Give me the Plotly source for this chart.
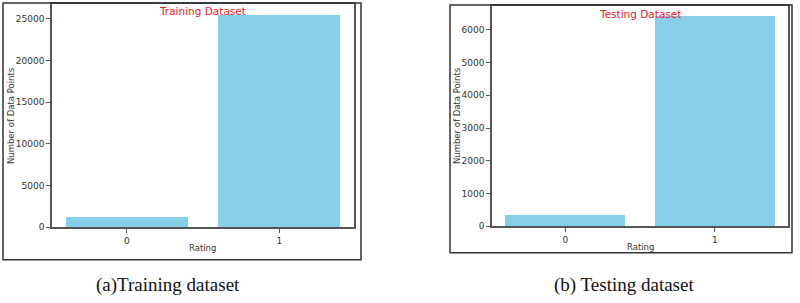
import plotly.graph_objects as go

# Data
ratings = [0, 1]
rating_labels = ["0", "1"]
train_counts = [1260, 25514]
test_counts = [341, 6410]
train_yticks = [0, 5000, 10000, 15000, 20000, 25000]
test_yticks = [0, 1000, 2000, 3000, 4000, 5000, 6000]

W, H = 800, 303
def px(x):
    return x / W
def py(y):
    return 1 - y / H

BAR = "#87CEEB"
AX = "#555555"
TXT = "#333333"

fig = go.Figure()
fig.add_trace(go.Bar(x=ratings, y=train_counts, width=0.8, marker=dict(color=BAR, line=dict(width=0)),
                     xaxis="x", yaxis="y", showlegend=False))
fig.add_trace(go.Bar(x=ratings, y=test_counts, width=0.8, marker=dict(color=BAR, line=dict(width=0)),
                     xaxis="x2", yaxis="y2", showlegend=False))

tickfont = dict(family="DejaVu Sans", size=9, color=TXT)
common_x = dict(range=[-0.49, 1.49], tickvals=ratings, ticktext=rating_labels, showgrid=False, zeroline=False,
                showline=True, mirror=True, linecolor=AX, linewidth=1.5, ticks="outside", ticklen=4,
                tickcolor=AX, tickfont=tickfont)
common_y = dict(showgrid=False, zeroline=False, showline=True, mirror=True, linecolor=AX, linewidth=1.5,
                ticks="outside", ticklen=4, tickcolor=AX, tickfont=tickfont)

fig.update_layout(
    width=W, height=H, margin=dict(l=0, r=0, t=0, b=0),
    paper_bgcolor="white", plot_bgcolor="white",
    xaxis=dict(domain=[px(52), px(354)], anchor="y", **common_x),
    yaxis=dict(domain=[py(231), py(4)], anchor="x", range=[0, max(train_counts) * 1.05],
               tickvals=train_yticks, ticktext=[str(v) for v in train_yticks], **common_y),
    xaxis2=dict(domain=[px(492), px(788)], anchor="y2", **common_x),
    yaxis2=dict(domain=[py(230), py(6)], anchor="x2", range=[0, max(test_counts) * 1.05],
                tickvals=test_yticks, ticktext=[str(v) for v in test_yticks], **common_y),
    bargap=0,
)

# Outer frames
fig.add_shape(type="rect", xref="paper", yref="paper", x0=px(3), x1=px(361), y0=py(264), y1=py(3),
              line=dict(color="#333333", width=1.5), layer="above")
fig.add_shape(type="rect", xref="paper", yref="paper", x0=px(450), x1=px(792), y0=py(257), y1=py(5),
              line=dict(color="#333333", width=1.5), layer="above")

lab = dict(family="DejaVu Sans", size=8.5, color=TXT)
ann = [
    dict(text="Training Dataset", x=px(203), y=py(11), font=dict(family="DejaVu Sans", size=10.5, color="#e8202a")),
    dict(text="Testing Dataset", x=px(640), y=py(14), font=dict(family="DejaVu Sans", size=10.5, color="#e8202a")),
    dict(text="Rating", x=px(203), y=py(252), font=lab),
    dict(text="Rating", x=px(640), y=py(251), font=lab),
    dict(text="Number of Data Points", x=px(11), y=py(118), textangle=-90, font=lab),
    dict(text="Number of Data Points", x=px(457), y=py(118), textangle=-90, font=lab),
    dict(text="(a)Training dataset", x=px(168), y=py(290),
         font=dict(family="Liberation Serif", size=19, color="#111111")),
    dict(text="(b) Testing dataset", x=px(624), y=py(290),
         font=dict(family="Liberation Serif", size=19, color="#111111")),
]
for a in ann:
    fig.add_annotation(xref="paper", yref="paper", showarrow=False, xanchor="center", yanchor="middle", **a)

fig.write_html("out.html")
